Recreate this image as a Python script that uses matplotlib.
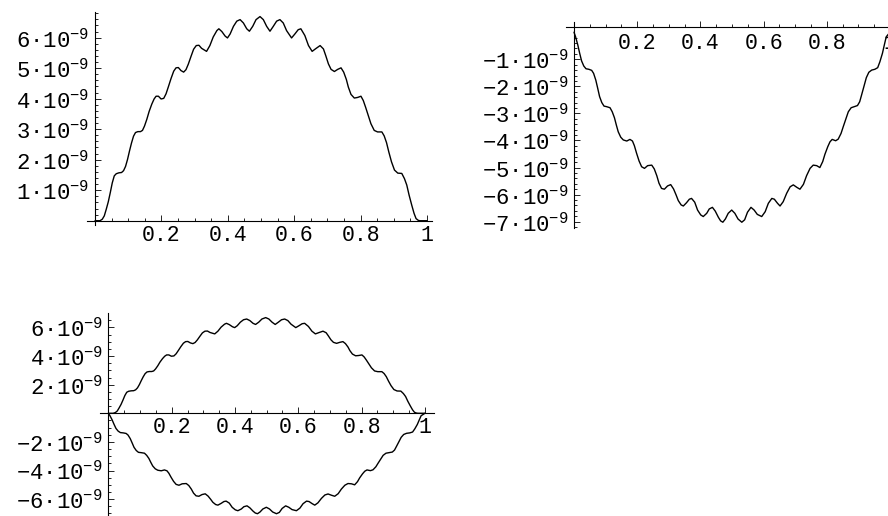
import matplotlib

matplotlib.use("Agg")
import matplotlib.pyplot as plt
import numpy as np
from matplotlib.ticker import FixedLocator

plt.rcParams["font.family"] = ["Liberation Mono", "DejaVu Sans"]
plt.rcParams["mathtext.fontset"] = "custom"
plt.rcParams["mathtext.rm"] = "Liberation Mono"
plt.rcParams["mathtext.it"] = "Liberation Mono"
plt.rcParams["mathtext.bf"] = "Liberation Mono"
plt.rcParams["mathtext.default"] = "regular"

# curves, y in units of 1e-9
F1_X = [0.000, 0.015, 0.022, 0.028, 0.034, 0.040, 0.046, 0.052, 0.058, 0.064,
        0.072, 0.080, 0.086, 0.092, 0.098, 0.104, 0.110, 0.116, 0.122, 0.129,
        0.137, 0.143, 0.149, 0.156, 0.163, 0.171, 0.178, 0.184, 0.191, 0.199,
        0.207, 0.214, 0.221, 0.229, 0.237, 0.244, 0.251, 0.259, 0.267, 0.274,
        0.281, 0.289, 0.297, 0.305, 0.313, 0.321, 0.336, 0.346, 0.356, 0.367,
        0.373, 0.382, 0.392, 0.399, 0.407, 0.417, 0.427, 0.437, 0.447, 0.457,
        0.465, 0.475, 0.485, 0.497, 0.507, 0.517, 0.527, 0.537, 0.547, 0.557,
        0.567, 0.577, 0.592, 0.602, 0.612, 0.620, 0.632, 0.643, 0.654, 0.665,
        0.678, 0.688, 0.695, 0.703, 0.711, 0.721, 0.731, 0.741, 0.749, 0.757,
        0.763, 0.771, 0.781, 0.791, 0.801, 0.808, 0.815, 0.823, 0.831, 0.841,
        0.851, 0.864, 0.871, 0.878, 0.885, 0.893, 0.902, 0.912, 0.924, 0.932,
        0.939, 0.946, 0.954, 0.961, 0.967, 0.974, 0.979, 1.000]
F1_Y = [0.00, 0.00, 0.05, 0.16, 0.38, 0.62, 0.92, 1.24, 1.47, 1.54,
        1.57, 1.58, 1.64, 1.78, 2.01, 2.29, 2.55, 2.77, 2.89, 2.92,
        2.92, 2.96, 3.10, 3.32, 3.58, 3.82, 3.99, 4.08, 4.08, 3.99,
        4.01, 4.16, 4.39, 4.66, 4.90, 5.01, 5.02, 4.92, 4.87, 4.95,
        5.13, 5.38, 5.62, 5.74, 5.75, 5.65, 5.55, 5.74, 6.02, 6.23,
        6.29, 6.20, 6.05, 5.99, 6.12, 6.37, 6.54, 6.59, 6.48, 6.29,
        6.21, 6.37, 6.59, 6.69, 6.59, 6.37, 6.21, 6.37, 6.54, 6.59,
        6.48, 6.23, 5.99, 6.12, 6.26, 6.29, 6.07, 5.74, 5.55, 5.64,
        5.74, 5.63, 5.41, 5.14, 4.96, 4.89, 4.96, 5.01, 4.87, 4.63,
        4.38, 4.14, 4.02, 4.04, 4.08, 3.94, 3.72, 3.45, 3.18, 2.96,
        2.91, 2.91, 2.78, 2.56, 2.25, 1.93, 1.66, 1.56, 1.55, 1.38,
        1.17, 0.84, 0.51, 0.24, 0.07, 0.01, 0.00, 0.00]

F2_X = [0.000, 0.005, 0.012, 0.018, 0.024, 0.031, 0.038, 0.047, 0.056, 0.062,
        0.069, 0.075, 0.081, 0.088, 0.095, 0.103, 0.114, 0.121, 0.128, 0.134,
        0.140, 0.148, 0.156, 0.167, 0.177, 0.185, 0.191, 0.198, 0.206, 0.214,
        0.223, 0.233, 0.246, 0.254, 0.262, 0.269, 0.277, 0.286, 0.296, 0.306,
        0.315, 0.323, 0.330, 0.339, 0.346, 0.356, 0.365, 0.372, 0.382, 0.391,
        0.401, 0.409, 0.420, 0.428, 0.438, 0.447, 0.457, 0.464, 0.471, 0.479,
        0.488, 0.499, 0.509, 0.519, 0.531, 0.540, 0.549, 0.560, 0.570, 0.580,
        0.594, 0.605, 0.615, 0.626, 0.634, 0.644, 0.652, 0.662, 0.673, 0.684,
        0.694, 0.705, 0.715, 0.726, 0.736, 0.747, 0.757, 0.768, 0.778, 0.787,
        0.794, 0.803, 0.810, 0.817, 0.828, 0.836, 0.845, 0.852, 0.861, 0.868,
        0.877, 0.887, 0.897, 0.904, 0.910, 0.918, 0.925, 0.933, 0.942, 0.952,
        0.961, 0.968, 0.976, 0.982, 0.988, 1.000]
F2_Y = [0.00, -0.17, -0.47, -0.78, -1.06, -1.25, -1.35, -1.37, -1.41, -1.52,
        -1.77, -2.07, -2.38, -2.60, -2.73, -2.75, -2.79, -2.94, -3.16, -3.43,
        -3.68, -3.88, -3.98, -4.02, -3.96, -4.02, -4.19, -4.47, -4.76, -4.97,
        -5.03, -4.93, -4.91, -5.05, -5.30, -5.58, -5.77, -5.80, -5.68, -5.63,
        -5.79, -6.01, -6.22, -6.38, -6.42, -6.30, -6.17, -6.14, -6.28, -6.57,
        -6.75, -6.81, -6.69, -6.53, -6.47, -6.61, -6.84, -6.97, -7.02, -6.90,
        -6.69, -6.57, -6.69, -6.90, -7.02, -6.93, -6.65, -6.47, -6.57, -6.73,
        -6.81, -6.63, -6.32, -6.14, -6.17, -6.32, -6.42, -6.26, -5.95, -5.71,
        -5.64, -5.73, -5.80, -5.62, -5.30, -5.03, -4.91, -4.93, -5.00, -4.78,
        -4.51, -4.23, -4.05, -3.96, -4.01, -3.95, -3.74, -3.49, -3.18, -2.94,
        -2.79, -2.75, -2.71, -2.57, -2.32, -1.98, -1.68, -1.48, -1.40, -1.37,
        -1.31, -1.09, -0.78, -0.47, -0.17, 0.00]

X_TICKS = [0.2, 0.4, 0.6, 0.8, 1.0]
X_TICK_LABELS = ["0.2", "0.4", "0.6", "0.8", "1"]
P1_Y_TICKS = [1, 2, 3, 4, 5, 6]
P2_Y_TICKS = [-1, -2, -3, -4, -5, -6, -7]
P3_Y_TICKS = [-6, -4, -2, 2, 4, 6]

W, H = 888, 516
X_LABEL_SIZE = 15.5
Y_LABEL_SIZE = 16


def add_axes_px(fig, left, right, top, bottom):
    return fig.add_axes([left / W, 1 - bottom / H, (right - left) / W, (bottom - top) / H])


def exp_label(v):
    return rf"${v:d}·10^{{-9}}$"


def style_axes(ax, y_ticks, y_minor_step, x_cross=0.0, x_pad=3, y_pad=4):
    for side in ("top", "right"):
        ax.spines[side].set_visible(False)
    ax.spines["left"].set_position(("data", 0.0))
    ax.spines["bottom"].set_position(("data", x_cross))
    for side in ("left", "bottom"):
        ax.spines[side].set_linewidth(0.8)
    ax.patch.set_visible(False)

    ax.xaxis.set_major_locator(FixedLocator(X_TICKS))
    ax.xaxis.set_minor_locator(FixedLocator(np.arange(0.05, 1.001, 0.05)))
    ax.set_xticklabels(X_TICK_LABELS)

    lo, hi = ax.get_ylim()
    ax.yaxis.set_major_locator(FixedLocator(y_ticks))
    minor = np.arange(np.ceil(lo / y_minor_step), np.floor(hi / y_minor_step) + 1) * y_minor_step
    ax.yaxis.set_minor_locator(FixedLocator(minor[np.abs(minor) > 1e-9]))
    ax.set_yticklabels([exp_label(v) for v in y_ticks])

    ax.tick_params(which="both", direction="in", width=0.6, color="black")
    ax.tick_params(which="major", length=4)
    ax.tick_params(which="minor", length=2)
    ax.tick_params(axis="x", pad=x_pad, labelsize=X_LABEL_SIZE)
    ax.tick_params(axis="y", pad=y_pad, labelsize=Y_LABEL_SIZE)


def main():
    fig = plt.figure(figsize=(W / 100, H / 100), dpi=100)
    line_style = dict(color="black", lw=1.0, solid_joinstyle="round", solid_capstyle="round")

    # top left: f1
    ax1 = add_axes_px(fig, 87, 432, 12, 225)
    ax1.plot(F1_X, F1_Y, **line_style)
    ax1.set_xlim(-0.0241, 1.015)
    ax1.set_ylim(-0.14, 6.84)
    style_axes(ax1, P1_Y_TICKS, 0.2)

    # top right: f2, x axis sits a little above zero
    ax2 = add_axes_px(fig, 566, 899.5, 21.7, 228)
    ax2.plot(F2_X, F2_Y, **line_style)
    ax2.set_xlim(-0.0253, 1.03)
    ax2.set_ylim(-7.233, 0.388)
    style_axes(ax2, P2_Y_TICKS, 0.2, x_cross=0.21, x_pad=5)

    # bottom left: both
    ax3 = add_axes_px(fig, 100, 434, 313.3, 517)
    ax3.plot(F1_X, F1_Y, **line_style)
    ax3.plot(F2_X, F2_Y, **line_style)
    ax3.set_xlim(-0.0265, 1.0287)
    ax3.set_ylim(-7.25, 6.99)
    style_axes(ax3, P3_Y_TICKS, 0.5)

    fig.savefig("out.png", dpi=100)
    plt.close(fig)


if __name__ == "__main__":
    main()
